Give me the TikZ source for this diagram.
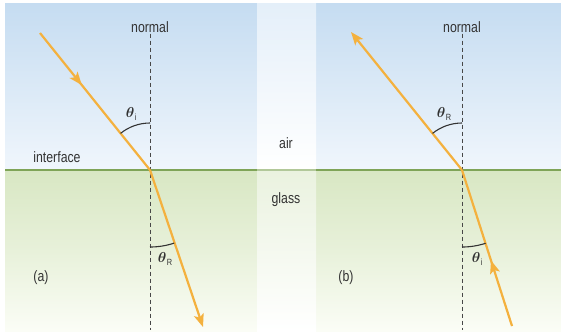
\documentclass[tikz,border=0pt]{standalone}
\usepackage{fontspec}
\setmainfont{Liberation Sans}[FakeStretch=0.82]
\usetikzlibrary{arrows.meta,decorations.markings}
\definecolor{skytop}{HTML}{C5DCF1}
\definecolor{skybot}{HTML}{F0F6FC}
\definecolor{striptop}{HTML}{E4EFF9}
\definecolor{glasstop}{HTML}{D8E7C3}
\definecolor{glassbot}{HTML}{FBFDF6}
\definecolor{stripglass}{HTML}{EAF2DF}
\definecolor{edgegreen}{HTML}{7FA457}
\definecolor{raycol}{HTML}{F4B13E}
\definecolor{txt}{HTML}{333333}
\newcommand{\thetalabel}[1]{{\boldmath$\theta$}\kern0.3pt\raisebox{-0.3ex}{\fontsize{9}{9}\selectfont #1}}
\tikzset{
  lbl/.style={text=txt, font=\fontsize{15}{17}\selectfont, inner sep=1pt},
  anglbl/.style={text=txt, font=\fontsize{15}{17}\selectfont, inner sep=1pt},
  normalline/.style={draw=txt!90, line width=0.9pt, dash pattern=on 4pt off 3pt},
  ray/.style={draw=raycol, line width=2.2pt},
  rayend/.style={ray, -{Stealth[length=13pt, width=10pt, inset=3pt]}},
  raymid/.style={ray, postaction={decorate}, decoration={markings,
      mark=at position #1 with {\arrow{Stealth[length=13pt, width=10pt, inset=3pt, raycol]}}}},
  anglearc/.style={draw=txt, line width=1.1pt}
}
\begin{document}
\begin{tikzpicture}[x=1pt, y=-1pt]
    \useasboundingbox (0,0) rectangle (561,333);

    % Backgrounds
    \shade[top color=skytop, bottom color=skybot] (5,3) rectangle (257,170);
    \shade[top color=skytop, bottom color=skybot] (316,3) rectangle (561,170);
    \shade[top color=striptop, bottom color=white] (257,3) rectangle (316,170);
    \shade[top color=glasstop, bottom color=glassbot, middle color=glasstop!55!glassbot] (5,170) rectangle (257,331);
    \shade[top color=glasstop, bottom color=glassbot, middle color=glasstop!55!glassbot] (316,170) rectangle (561,331);
    \shade[top color=stripglass, bottom color=white] (257,170) rectangle (316,331);
    \draw[edgegreen, line width=2.8pt] (5,170) -- (257,170);
    \draw[edgegreen!60, line width=2.8pt] (257,170) -- (316,170);
    \draw[edgegreen, line width=2.8pt] (316,170) -- (561,170);

    % Nodes
    \node[lbl] (na) at (150,27) {normal};
    \node[lbl] (nb) at (462,27) {normal};
    \node[lbl] (iface) at (57,157) {interface};
    \node[lbl] (air) at (286,143) {air};
    \node[lbl] (glass) at (286,200) {glass};
    \node[lbl] (a) at (41,278) {(a)};
    \node[lbl] (b) at (346,278) {(b)};
    \node[anglbl] (tia) at (131,114) {\thetalabel{i}};
    \node[anglbl] (tra) at (165,259) {\thetalabel{R}};
    \node[anglbl] (trb) at (444,114) {\thetalabel{R}};
    \node[anglbl] (tib) at (477,259) {\thetalabel{i}};

    \coordinate (Oa) at (150,170);
    \coordinate (Sa) at (40,33);
    \coordinate (Ea) at (203,327);
    \coordinate (Ba) at (150,330);
    \coordinate (Ob) at (462,170);
    \coordinate (Eb) at (351,32);
    \coordinate (Sb) at (512,326);
    \coordinate (Bb) at (462,330);

    % Lines
    \draw[normalline] (na.south) -- (Ba);
    \draw[normalline] (nb.south) -- (Bb);
    \draw[raymid=0.38] (Sa) -- (Oa);
    \draw[rayend] (Oa) -- (Ea);
    \draw[rayend] (Ob) -- (Eb);
    \draw[raymid=0.42] (Sb) -- (Ob);

    % Angles
    \draw[anglearc] (150,123) arc[start angle=270, end angle=231.2, radius=47];
    \draw[anglearc] (150,247) arc[start angle=90, end angle=71.6, radius=77];
    \draw[anglearc] (462,123) arc[start angle=270, end angle=231.2, radius=47];
    \draw[anglearc] (462,247) arc[start angle=90, end angle=72.1, radius=77];
\end{tikzpicture}
\end{document}
